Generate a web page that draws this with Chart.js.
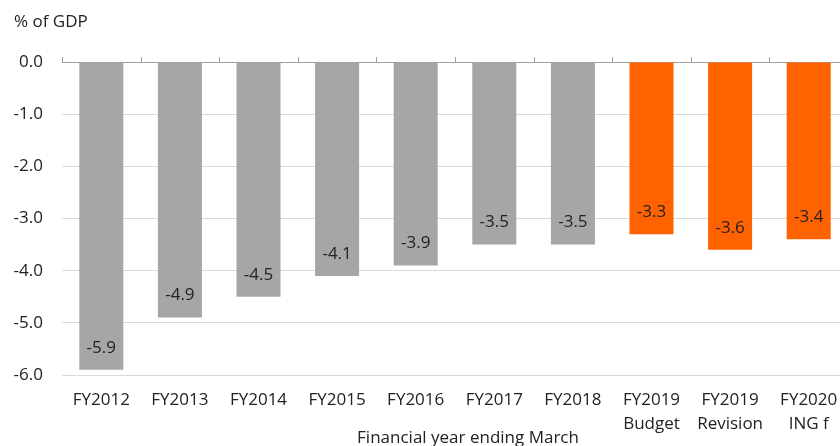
<!DOCTYPE html>
<html>
<head>
<meta charset="utf-8">
<script src="https://cdn.jsdelivr.net/npm/chart.js@4"></script>
<style>
  html, body { margin: 0; padding: 0; background: #fff; overflow: hidden; }
  #wrap { position: absolute; left: 0; top: 0; width: 848px; height: 446px; }
</style>
</head>
<body>
<div id="wrap"><canvas id="c"></canvas></div>
<script>
var categories = [
    ["FY2012"], ["FY2013"], ["FY2014"], ["FY2015"], ["FY2016"],
    ["FY2017"], ["FY2018"], ["FY2019", "Budget"], ["FY2019", "Revision"], ["FY2020", "ING f"]
];
var deficit = [-5.9, -4.9, -4.5, -4.1, -3.9, -3.5, -3.5, -3.3, -3.6, -3.4];
var barColours = ["#a6a6a6", "#a6a6a6", "#a6a6a6", "#a6a6a6", "#a6a6a6",
    "#a6a6a6", "#a6a6a6", "#ff6200", "#ff6200", "#ff6200"];
var yTicks = { min: -6, max: 0, step: 1 };
var unitLabel = "% of GDP";
var xTitle = "Financial year ending March";

var fontFamily = "'Open Sans', 'Noto Sans', sans-serif";

// values written inside each bar, near its end
var barLabels = {
    id: 'barLabels',
    afterDatasetsDraw: function (chart) {
        var ctx = chart.ctx;
        var meta = chart.getDatasetMeta(0);
        ctx.save();
        ctx.font = "17px " + fontFamily;
        ctx.fillStyle = "#222";
        ctx.textAlign = "center";
        ctx.textBaseline = "middle";
        meta.data.forEach(function (bar, i) {
            ctx.fillText(deficit[i].toFixed(1), bar.x, bar.y - 22);
        });
        ctx.restore();
    }
};

// unit label top left + little tick marks on the zero line
var decorations = {
    id: 'decorations',
    afterDraw: function (chart) {
        var ctx = chart.ctx;
        var x = chart.scales.x, y = chart.scales.y;
        var y0 = y.getPixelForValue(0);
        ctx.save();
        ctx.strokeStyle = "#a0a0a0";
        ctx.lineWidth = 1;
        var n = categories.length;
        var w = (x.right - x.left) / n;
        for (var i = 0; i <= n; i++) {
            var px = Math.round(x.left + i * w) + 0.5;
            ctx.beginPath();
            ctx.moveTo(px, y0 - 5);
            ctx.lineTo(px, y0);
            ctx.stroke();
        }
        ctx.font = "17px " + fontFamily;
        ctx.fillStyle = "#222";
        ctx.textAlign = "left";
        ctx.textBaseline = "middle";
        ctx.fillText(unitLabel, 14, 22);
        // axis title, sitting a bit right of the plot centre as in the source
        ctx.textAlign = "center";
        ctx.fillText(xTitle, 468, 438);
        ctx.restore();
    }
};

var ctx = document.getElementById("c").getContext("2d");
var chart = new Chart(ctx, {
    type: 'bar',
    data: {
        labels: categories,
        datasets: [{
            data: deficit,
            backgroundColor: barColours,
            borderWidth: 0,
            categoryPercentage: 1,
            barPercentage: 0.56
        }]
    },
    options: {
        responsive: true,
        maintainAspectRatio: false,
        animation: false,
        layout: { padding: { top: 62, right: 0, bottom: 0, left: 0 } },
        plugins: { legend: { display: false }, tooltip: { enabled: false } },
        scales: {
            x: {
                grid: { display: false },
                border: { display: false },
                ticks: {
                    color: "#222",
                    padding: 5,
                    maxRotation: 0,
                    autoSkip: false,
                    font: { family: fontFamily, size: 17, lineHeight: 1.42 }
                },
                afterFit: function (scale) { scale.height = 71; }
            },
            y: {
                min: yTicks.min,
                max: yTicks.max,
                border: { display: false },
                grid: {
                    drawTicks: false,
                    color: function (c) { return c.tick && c.tick.value === 0 ? "#a0a0a0" : "#d9d9d9"; },
                    lineWidth: 1
                },
                ticks: {
                    stepSize: yTicks.step,
                    padding: 19,
                    color: "#222",
                    font: { family: fontFamily, size: 17 },
                    callback: function (v) { return Number(v).toFixed(1); }
                },
                afterFit: function (scale) { scale.width = 62; }
            }
        }
    },
    plugins: [barLabels, decorations]
});
</script>
</body>
</html>
